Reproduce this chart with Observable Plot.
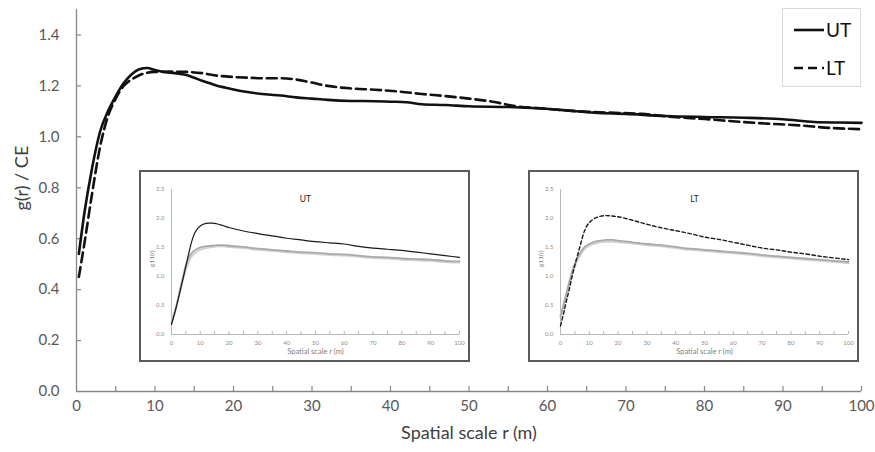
<!DOCTYPE html>
<html><head><meta charset="utf-8">
<script src="https://cdn.jsdelivr.net/npm/d3@7"></script>
<script src="https://cdn.jsdelivr.net/npm/@observablehq/plot@0.6"></script>
<style>
body{margin:0;background:#fff;}
#wrap{position:relative;width:875px;height:452px;font-family:Lato,"Open Sans",sans-serif;}
.inset{position:absolute;background:#fff;border:2px solid #5a5a5a;box-sizing:border-box;width:331px;height:192px;}
.inset svg{display:block;}
#legend{position:absolute;left:782px;top:8px;width:79px;height:79px;border:1px solid #d9d9d9;box-sizing:border-box;background:#fff;}
</style></head><body><div id="wrap"></div>
<script>
// ---- main chart data ----
const seriesNames = ["UT", "LT"];
const rUT = [0.3,1,2,3,4,5,6,7,8,9,10,11,12,13,14,15,16,17,18,19,20,22,24,26,28,30,32,35,38,40,42,44,47,50,55,58,62,66,70,75,80,85,90,94,97,100];
const gUT = [0.54,0.70,0.88,1.02,1.10,1.16,1.21,1.245,1.265,1.27,1.262,1.255,1.252,1.248,1.243,1.232,1.22,1.21,1.20,1.193,1.186,1.175,1.167,1.162,1.155,1.150,1.145,1.141,1.140,1.138,1.136,1.128,1.125,1.120,1.117,1.113,1.105,1.095,1.090,1.082,1.078,1.075,1.069,1.058,1.056,1.055];
const rLT = [0.3,1,2,3,4,5,6,7,8,9,10,12,14,16,18,20,22,24,26,28,30,32,35,38,41,44,47,50,53,56,60,64,68,72,76,80,84,88,92,96,100];
const gLT = [0.45,0.58,0.78,0.96,1.08,1.15,1.20,1.225,1.242,1.252,1.255,1.256,1.255,1.25,1.24,1.235,1.232,1.23,1.23,1.225,1.213,1.20,1.19,1.185,1.178,1.168,1.16,1.15,1.138,1.12,1.11,1.10,1.095,1.09,1.078,1.07,1.06,1.052,1.045,1.035,1.03];
const yTicks = [0,0.2,0.4,0.6,0.8,1.0,1.2,1.4];
const xTicks = [0,10,20,30,40,50,60,70,80,90,100];
const xMinor = [5,10,15,20,25,30,35,40,45,50,55,60,65,70,75,80,85,90,95,100];

// ---- inset data ----
const rInset = [0,1,2,3,4,5,6,7,8,9,10,11,12,13,14,15,16,18,20,25,30,35,40,45,50,55,60,65,70,75,80,85,90,95,100];
const obsUT = [0.17,0.35,0.54,0.75,0.96,1.18,1.40,1.60,1.74,1.82,1.87,1.90,1.915,1.92,1.92,1.915,1.905,1.875,1.845,1.785,1.74,1.70,1.66,1.63,1.60,1.58,1.56,1.52,1.49,1.47,1.45,1.42,1.39,1.36,1.33];
const obsLT = [0.15,0.35,0.57,0.77,1.0,1.2,1.38,1.56,1.74,1.86,1.93,1.975,2.005,2.025,2.04,2.048,2.05,2.042,2.03,1.97,1.90,1.84,1.79,1.74,1.68,1.64,1.59,1.54,1.49,1.46,1.42,1.39,1.35,1.32,1.29];
const rEnv = [0,1,2,3,4,5,6,7,8,10,12,14,16,18,20,25,30,35,40,45,50,55,60,65,70,75,80,85,90,95,100];
const envUTHi = [0.20,0.35,0.55,0.78,1.00,1.20,1.32,1.40,1.45,1.50,1.52,1.53,1.54,1.54,1.53,1.51,1.48,1.46,1.44,1.42,1.41,1.39,1.38,1.36,1.34,1.33,1.31,1.30,1.29,1.27,1.26];
const envUTLo = [0.22,0.38,0.56,0.75,0.95,1.12,1.25,1.34,1.40,1.46,1.49,1.51,1.52,1.52,1.51,1.49,1.46,1.44,1.42,1.40,1.39,1.37,1.36,1.34,1.32,1.31,1.29,1.28,1.27,1.25,1.24];
const envLTHi = [0.30,0.50,0.70,0.90,1.08,1.22,1.33,1.42,1.49,1.56,1.60,1.62,1.63,1.63,1.62,1.59,1.56,1.54,1.51,1.48,1.46,1.44,1.42,1.40,1.37,1.35,1.33,1.31,1.29,1.27,1.25];
const envLTLo = [0.32,0.50,0.68,0.86,1.03,1.17,1.29,1.38,1.45,1.53,1.57,1.59,1.60,1.60,1.59,1.57,1.54,1.52,1.49,1.46,1.44,1.42,1.40,1.38,1.35,1.33,1.31,1.29,1.27,1.25,1.23];
const insetYTicks = [0,0.5,1.0,1.5,2.0,2.5];

const mainData = [
  ...rUT.map((r,i)=>({r, g:gUT[i], s:"UT"})),
  ...rLT.map((r,i)=>({r, g:gLT[i], s:"LT"}))
];

const W = 875, H = 452, mL = 76, mR = 14, mT = 9, mB = 61;
const axisCol = "#868686", labCol = "#595959";
const tkX = 5 * 100 / (W - mL - mR);      // 5px in x units
const tkY = 5 * 1.5 / (H - mT - mB);      // 5px in y units

const main = Plot.plot({
  width: W, height: H, marginLeft: mL, marginRight: mR, marginTop: mT, marginBottom: mB,
  style: {fontFamily: "Lato, 'Open Sans', sans-serif", background: "white", overflow: "visible"},
  x: {domain: [0, 100]},
  y: {domain: [0, 1.5]},
  marks: [
    Plot.ruleY([0], {stroke: axisCol, strokeWidth: 1.3}),
    Plot.ruleX([0], {y1: 0, y2: 1.5, stroke: axisCol, strokeWidth: 1.3}),
    Plot.ruleX(xMinor, {x: d => d, y1: 0, y2: tkY, stroke: axisCol, strokeWidth: 1.2}),
    Plot.ruleY(yTicks.slice(1), {y: d => d, x1: 0, x2: tkX, stroke: axisCol, strokeWidth: 1.2}),
    Plot.axisY(yTicks, {tickSize: 0, tickPadding: 17, tickFormat: d3.format(".1f"), fontSize: 15, fill: labCol, label: null}),
    Plot.axisX(xTicks, {tickSize: 0, tickPadding: 9, fontSize: 15, fill: labCol, label: null}),
    Plot.text(["Spatial scale r (m)"], {frameAnchor: "bottom", dy: 47, fontSize: 18, fill: "#404040"}),
    Plot.text(["g(r) / CE"], {frameAnchor: "left", dx: -54, dy: 10, rotate: -90, fontSize: 18, fill: "#404040"}),
    Plot.line(mainData.filter(d => d.s === "LT"), {x: "r", y: "g", stroke: "#111", strokeWidth: 2.6, strokeDasharray: "10,5", curve: "monotone-x"}),
    Plot.line(mainData.filter(d => d.s === "UT"), {x: "r", y: "g", stroke: "#111", strokeWidth: 2.6, curve: "monotone-x"})
  ]
});

const wrap = document.getElementById("wrap");
wrap.appendChild(main);

function inset(title, obs, hi, lo, dashed, left) {
  const iw = 327, ih = 188, iL = 30, iR = 9, iT = 17, iB = 26;
  const ty = 3 * 2.5 / (ih - iT - iB);
  const ic = "#a6a6a6";
  const p = Plot.plot({
    width: iw, height: ih, marginLeft: iL, marginRight: iR, marginTop: iT, marginBottom: iB,
    style: {fontFamily: "Lato, 'Open Sans', sans-serif", background: "white"},
    x: {domain: [0, 100]},
    y: {domain: [0, 2.5]},
    marks: [
      Plot.ruleY([0], {stroke: ic, strokeWidth: 0.8}),
      Plot.ruleX([0], {y1: 0, y2: 2.5, stroke: ic, strokeWidth: 0.8}),
      Plot.ruleX(xMinor, {x: d => d, y1: 0, y2: ty, stroke: ic, strokeWidth: 0.8}),
      Plot.axisY(insetYTicks, {tickSize: 0, tickPadding: 7, tickFormat: d3.format(".1f"), fontSize: 6, fill: "#8c8c8c", label: null}),
      Plot.axisX(xTicks, {tickSize: 0, tickPadding: 6, fontSize: 6, fill: "#8c8c8c", label: null}),
      Plot.text(["Spatial scale r (m)"], {frameAnchor: "bottom", dy: 19, fontSize: 7.5, fill: "#7f7f7f"}),
      Plot.text(["g11(r)"], {frameAnchor: "left", dx: -20, dy: 5, rotate: -90, fontSize: 6.5, fill: "#7f7f7f"}),
      Plot.text([title], {frameAnchor: "top", dx: -10, dy: 6, fontSize: 8.5, fill: "#222"}),
      Plot.line(rEnv.map((r, i) => ({r, g: lo[i]})), {x: "r", y: "g", stroke: "#d2d2d2", strokeWidth: 2, curve: "monotone-x"}),
      Plot.line(rEnv.map((r, i) => ({r, g: hi[i]})), {x: "r", y: "g", stroke: "#a9a9a9", strokeWidth: 1.8, curve: "monotone-x"}),
      Plot.line(rInset.map((r, i) => ({r, g: obs[i]})), {x: "r", y: "g", stroke: "#1a1a1a", strokeWidth: dashed ? 1.4 : 1.2, strokeDasharray: dashed ? "3.5,2.5" : null, curve: "monotone-x"})
    ]
  });
  const d = document.createElement("div");
  d.className = "inset";
  d.style.left = left + "px";
  d.style.top = "170px";
  d.appendChild(p);
  wrap.appendChild(d);
}
inset("UT", obsUT, envUTHi, envUTLo, false, 139);
inset("LT", obsLT, envLTHi, envLTLo, true, 528);

// legend
const lg = document.createElement("div");
lg.id = "legend";
const ns = "http://www.w3.org/2000/svg";
const ls = document.createElementNS(ns, "svg");
ls.setAttribute("width", 77); ls.setAttribute("height", 77);
seriesNames.forEach((name, i) => {
  const y = 21 + i * 38;
  const ln = document.createElementNS(ns, "line");
  ln.setAttribute("x1", 11); ln.setAttribute("x2", 41);
  ln.setAttribute("y1", y); ln.setAttribute("y2", y);
  ln.setAttribute("stroke", "#111"); ln.setAttribute("stroke-width", 2.6);
  if (name === "LT") ln.setAttribute("stroke-dasharray", "9,5");
  ls.appendChild(ln);
  const t = document.createElementNS(ns, "text");
  t.setAttribute("x", 43); t.setAttribute("y", y);
  t.setAttribute("dy", "0.35em");
  t.setAttribute("font-size", 19);
  t.setAttribute("font-family", "Lato, 'Open Sans', sans-serif");
  t.setAttribute("fill", "#111");
  t.textContent = name;
  ls.appendChild(t);
});
lg.appendChild(ls);
wrap.appendChild(lg);
</script>
</body></html>
